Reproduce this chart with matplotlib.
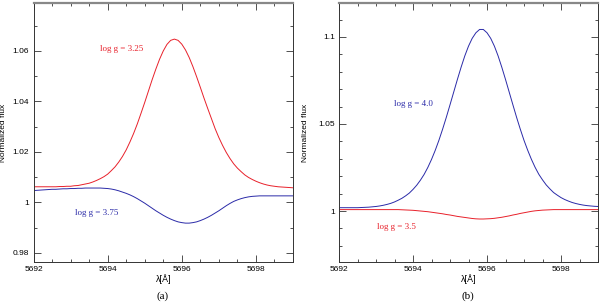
#!/usr/bin/env python3
import matplotlib
matplotlib.use("Agg")
from matplotlib import pyplot as plt
from matplotlib.ticker import MultipleLocator, FormatStrFormatter

# wavelength samples (Angstrom)
wave = [5692.0, 5692.1, 5692.2, 5692.3, 5692.4, 5692.5, 5692.6, 5692.7, 5692.8, 5692.9,
        5693.0, 5693.1, 5693.2, 5693.3, 5693.4, 5693.5, 5693.6, 5693.7, 5693.8, 5693.9,
        5694.0, 5694.1, 5694.2, 5694.3, 5694.4, 5694.5, 5694.6, 5694.7, 5694.8, 5694.9,
        5695.0, 5695.1, 5695.2, 5695.3, 5695.4, 5695.5, 5695.6, 5695.7, 5695.8, 5695.9,
        5696.0, 5696.1, 5696.2, 5696.3, 5696.4, 5696.5, 5696.6, 5696.7, 5696.8, 5696.9,
        5697.0, 5697.1, 5697.2, 5697.3, 5697.4, 5697.5, 5697.6, 5697.7, 5697.8, 5697.9,
        5698.0, 5698.1, 5698.2, 5698.3, 5698.4, 5698.5, 5698.6, 5698.7, 5698.8, 5698.9,
        5699.0]

# panel (a): log g = 3.25 (red) and log g = 3.75 (blue)
flux_a_325 = [1.0062, 1.0062, 1.0062, 1.0062, 1.0062, 1.0062, 1.0062, 1.0063, 1.0063, 1.0064,
              1.0064, 1.0066, 1.0067, 1.0070, 1.0073, 1.0076, 1.0081, 1.0087, 1.0094, 1.0102,
              1.0112, 1.0126, 1.0141, 1.0160, 1.0182, 1.0208, 1.0239, 1.0273, 1.0311, 1.0353,
              1.0396, 1.0441, 1.0486, 1.0528, 1.0567, 1.0600, 1.0626, 1.0642, 1.0647, 1.0642,
              1.0627, 1.0604, 1.0574, 1.0538, 1.0498, 1.0456, 1.0413, 1.0372, 1.0332, 1.0292,
              1.0257, 1.0226, 1.0198, 1.0174, 1.0153, 1.0136, 1.0122, 1.0109, 1.0099, 1.0091,
              1.0084, 1.0078, 1.0073, 1.0069, 1.0066, 1.0064, 1.0062, 1.0061, 1.0060, 1.0059,
              1.0058]
flux_a_375 = [1.0047, 1.0048, 1.0049, 1.0050, 1.0051, 1.0052, 1.0052, 1.0053, 1.0054, 1.0054,
              1.0055, 1.0055, 1.0056, 1.0056, 1.0057, 1.0057, 1.0057, 1.0057, 1.0057, 1.0056,
              1.0055, 1.0053, 1.0050, 1.0046, 1.0041, 1.0036, 1.0030, 1.0023, 1.0015, 1.0006,
              0.9997, 0.9987, 0.9977, 0.9967, 0.9958, 0.9949, 0.9941, 0.9934, 0.9928, 0.9923,
              0.9920, 0.9918, 0.9918, 0.9920, 0.9923, 0.9928, 0.9934, 0.9941, 0.9949, 0.9958,
              0.9967, 0.9977, 0.9987, 0.9996, 1.0004, 1.0010, 1.0015, 1.0019, 1.0022, 1.0024,
              1.0025, 1.0026, 1.0026, 1.0026, 1.0026, 1.0026, 1.0026, 1.0026, 1.0026, 1.0026,
              1.0026]

# panel (b): log g = 4.0 (blue) and log g = 3.5 (red)
flux_b_40 = [1.0019, 1.0019, 1.0019, 1.0019, 1.0019, 1.0019, 1.0020, 1.0021, 1.0022, 1.0024,
             1.0026, 1.0029, 1.0033, 1.0038, 1.0044, 1.0052, 1.0062, 1.0073, 1.0087, 1.0103,
             1.0124, 1.0148, 1.0177, 1.0210, 1.0250, 1.0296, 1.0348, 1.0406, 1.0470, 1.0538,
             1.0610, 1.0683, 1.0756, 1.0826, 1.0891, 1.0947, 1.0992, 1.1024, 1.1043, 1.1043,
             1.1024, 1.0992, 1.0947, 1.0891, 1.0826, 1.0756, 1.0683, 1.0610, 1.0538, 1.0470,
             1.0406, 1.0349, 1.0297, 1.0251, 1.0211, 1.0179, 1.0150, 1.0127, 1.0106, 1.0091,
             1.0077, 1.0066, 1.0057, 1.0049, 1.0043, 1.0038, 1.0034, 1.0031, 1.0029, 1.0027,
             1.0026]
flux_b_35 = [1.0008, 1.0008, 1.0008, 1.0008, 1.0008, 1.0008, 1.0008, 1.0008, 1.0008, 1.0008,
             1.0008, 1.0008, 1.0008, 1.0008, 1.0008, 1.0008, 1.0008, 1.0007, 1.0006, 1.0005,
             1.0004, 1.0002, 1.0000, 0.9998, 0.9996, 0.9993, 0.9990, 0.9987, 0.9984, 0.9980,
             0.9977, 0.9973, 0.9969, 0.9966, 0.9963, 0.9960, 0.9957, 0.9955, 0.9954, 0.9954,
             0.9955, 0.9956, 0.9958, 0.9961, 0.9964, 0.9968, 0.9972, 0.9977, 0.9981, 0.9986,
             0.9990, 0.9994, 0.9998, 1.0001, 1.0003, 1.0005, 1.0006, 1.0007, 1.0008, 1.0008,
             1.0008, 1.0008, 1.0008, 1.0008, 1.0008, 1.0008, 1.0008, 1.0008, 1.0008, 1.0008,
             1.0008]

RED = "#e8202a"
BLUE = "#2a2aa8"

plt.rcParams['font.family'] = ['Liberation Sans', 'DejaVu Sans']

fig = plt.figure(figsize=(6.0, 3.03), dpi=100)
ax_a = fig.add_axes([33.5 / 600, 41 / 303, 259.5 / 600, 259 / 303])
ax_b = fig.add_axes([339 / 600, 41 / 303, 259 / 600, 259 / 303])


def style(ax, ylim, ymajor, yminor, ylab_x):
    ax.set_xlim(5692, 5699)
    ax.set_ylim(*ylim)
    ax.xaxis.set_major_locator(MultipleLocator(2))
    ax.xaxis.set_minor_locator(MultipleLocator(0.5))
    ax.yaxis.set_major_locator(MultipleLocator(ymajor))
    ax.yaxis.set_minor_locator(MultipleLocator(yminor))
    ax.yaxis.set_major_formatter(FormatStrFormatter('%g'))
    ax.tick_params(which='both', direction='in', top=True, right=True,
                   labelsize=6, color='#333333', width=0.6, pad=3)
    ax.tick_params(which='major', length=5)
    ax.tick_params(which='minor', length=2.5)
    for s in ax.spines.values():
        s.set_color('#333333')
        s.set_linewidth(0.7)
    ax.spines['top'].set_color('#888888')
    ax.spines['top'].set_linewidth(1.6)
    ax.set_xlabel('λ[Å]', fontsize=6.5, labelpad=1)
    ax.set_ylabel('Normalized flux', fontsize=6)
    ax.yaxis.set_label_coords(ylab_x, 0.5)


style(ax_a, (0.9764, 1.079), 0.02, 0.01, -0.103)
ax_a.plot(wave, flux_a_325, color=RED, lw=0.7)
ax_a.plot(wave, flux_a_375, color=BLUE, lw=0.7)
ax_a.text(5694.38, 1.0608, 'log g = 3.25', color=RED, fontsize=6.5,
          family='Liberation Serif', ha='center', va='center')
ax_a.text(5693.7, 0.9958, 'log g = 3.75', color=BLUE, fontsize=6.5,
          family='Liberation Serif', ha='center', va='center')

style(ax_b, (0.9707, 1.1195), 0.05, 0.01, -0.114)
ax_b.plot(wave, flux_b_40, color=BLUE, lw=0.7)
ax_b.plot(wave, flux_b_35, color=RED, lw=0.7)
ax_b.text(5694.02, 1.0616, 'log g = 4.0', color=BLUE, fontsize=6.5,
          family='Liberation Serif', ha='center', va='center')
ax_b.text(5693.55, 0.991, 'log g = 3.5', color=RED, fontsize=6.5,
          family='Liberation Serif', ha='center', va='center')

fig.text(163 / 600, 1 - 296 / 303, '(a)', fontsize=8, family='Liberation Serif',
         ha='center', va='center')
fig.text(468 / 600, 1 - 296 / 303, '(b)', fontsize=8, family='Liberation Serif',
         ha='center', va='center')

fig.savefig('out.png', dpi=100)
